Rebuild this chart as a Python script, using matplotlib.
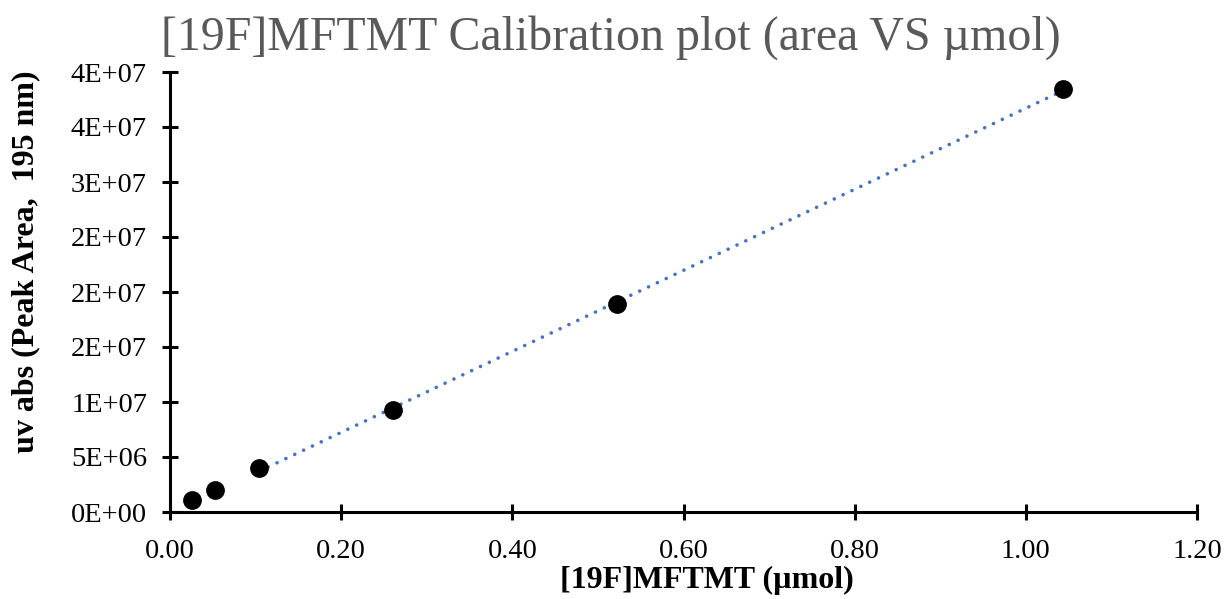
import numpy as np
import matplotlib.pyplot as plt
from matplotlib.ticker import FuncFormatter

# amount of [19F]MFTMT (umol) and UV peak area
amount_umol = [0.0261, 0.0522, 0.1044, 0.261, 0.522, 1.044]
peak_area = [1.09e6, 2.0e6, 4.0e6, 9.27e6, 18.9e6, 38.45e6]
fit_start = 2  # trendline covers the points from the third one on

x_ticks = [0.0, 0.2, 0.4, 0.6, 0.8, 1.0, 1.2]
y_ticks = [0, 5e6, 1e7, 1.5e7, 2e7, 2.5e7, 3e7, 3.5e7, 4e7]

plt.rcParams['font.family'] = ['Liberation Serif', 'DejaVu Serif']

W, H = 1225, 599
fig = plt.figure(figsize=(W / 100, H / 100), dpi=100)
ax = fig.add_axes([170 / W, 1 - 512 / H, (1197 - 170) / W, (512 - 72) / H])

# linear trendline (dotted)
xs = np.array(amount_umol[fit_start:])
ys = np.array(peak_area[fit_start:])
slope, icpt = np.polyfit(xs, ys, 1)
xl = np.array([xs.min(), xs.max()])
ax.plot(xl, slope * xl + icpt, color='#4472C4', lw=2.6, ls=(0, (0.01, 2.7)),
        dash_capstyle='round', zorder=2)

ax.plot(amount_umol, peak_area, 'o', color='black', markersize=12.5, zorder=3)

ax.set_xlim(0, 1.2)
ax.set_ylim(0, 4e7)
ax.set_xticks(x_ticks)
ax.set_yticks(y_ticks)
ax.xaxis.set_major_formatter(FuncFormatter(lambda v, p: f"{v:.2f}"))
ax.yaxis.set_major_formatter(FuncFormatter(lambda v, p: f"{v:.0E}"))

for s in ['top', 'right']:
    ax.spines[s].set_visible(False)
for s in ['left', 'bottom']:
    ax.spines[s].set_linewidth(2.2)
ax.tick_params(direction='inout', length=11, width=2.2, labelsize=20.5, color='black')
ax.tick_params(axis='x', pad=14)
ax.tick_params(axis='y', pad=11)

fig.text(611 / W, 1 - 38 / H, '[19F]MFTMT Calibration plot (area VS µmol)',
         fontsize=34.5, color='#595959', ha='center', va='center')
fig.text(707 / W, 1 - 580 / H, '[19F]MFTMT (µmol)', fontsize=23,
         fontweight='bold', ha='center', va='center')
fig.text(26 / W, 1 - 262 / H, 'uv abs (Peak Area,  195 nm)', fontsize=23,
         fontweight='bold', ha='center', va='center', rotation=90)

fig.savefig('out.png', dpi=100)
